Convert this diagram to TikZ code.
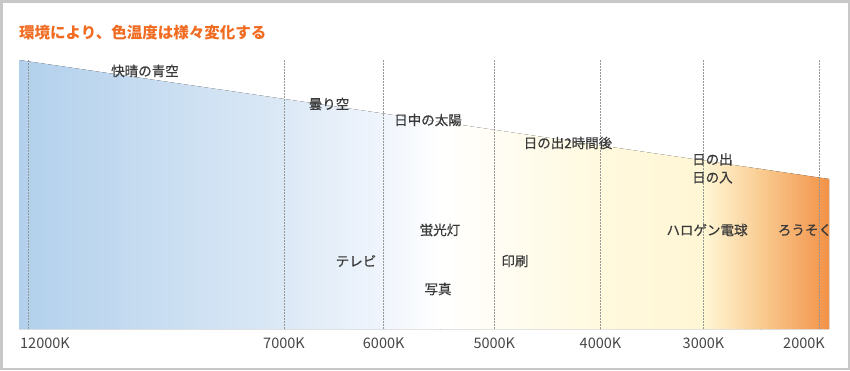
\documentclass[tikz,border=0pt]{standalone}
\usepackage{fontspec}
\setmainfont{Noto Sans CJK JP}
\newfontfamily\srcfont{Noto Sans CJK JP}[FakeBold=0.6]
\usepackage{xcolor}

\definecolor{titleorange}{RGB}{240,108,34}
\definecolor{labelgray}{RGB}{58,58,58}
\definecolor{axisgray}{RGB}{70,70,70}
\definecolor{framegray}{RGB}{200,200,200}
\definecolor{guidegray}{RGB}{150,150,150}
\definecolor{skyA}{RGB}{178,208,236}
\definecolor{skyB}{RGB}{220,233,246}
\definecolor{skyC}{RGB}{240,245,252}
\definecolor{skyD}{RGB}{255,255,255}
\definecolor{skyE}{RGB}{255,249,222}
\definecolor{skyF}{RGB}{255,246,212}
\definecolor{skyG}{RGB}{249,204,146}
\definecolor{skyH}{RGB}{242,145,70}

\begin{document}
\begin{tikzpicture}[x=1pt, y=-1pt,
    src/.style={text=labelgray, inner sep=0pt, font=\srcfont\fontsize{13.5}{16}\selectfont},
    kelvin/.style={text=axisgray, inner sep=0pt, font=\fontsize{14.5}{16}\selectfont},
    guide/.style={guidegray, line width=0.8pt, dash pattern=on 1.5pt off 1.5pt}]

      \useasboundingbox (0,0) rectangle (850,370);
      \draw[framegray, line width=2.5pt] (1.25,1.25) rectangle (848.75,368.75);

      % colour band
      \begin{scope}
        \clip (19,60) -- (829,179) -- (829,329) -- (19,329) -- cycle;
        \foreach \xa/\xb/\ca/\cb in {19/285.5/skyA/skyB, 285/384.5/skyB/skyC, 384/440.5/skyC/skyD,
            440/600.5/skyD/skyE, 600/705.5/skyE/skyF, 705/760.5/skyF/skyG, 760/830/skyG/skyH}
          \fill[left color=\ca, right color=\cb] (\xa,50) rectangle (\xb,340);
      \end{scope}

      % guides and scale
      \foreach \gx/\gk in {284/7000K, 383.7/6000K, 494.3/5000K, 600.5/4000K, 703.5/3000K} {
        \draw[guide] (\gx,60) -- (\gx,329);
        \node[kelvin] (k\gk) at (\gx,343) {\gk};
      }
      \draw[guide] (28.7,60) -- (28.7,329);
      \draw[guide] (819.5,60) -- (819.5,329);
      \node[kelvin, anchor=west] (k12000K) at (20,343) {12000K};
      \node[kelvin] (k2000K) at (804,343) {2000K};

      \node[anchor=west, inner sep=0pt, text=titleorange, font=\fontsize{15.5}{18}\selectfont\bfseries] (title) at (19,33) {環境により、色温度は様々変化する};

      \node[src] (blue) at (145,71) {快晴の青空};
      \node[src] (cloudy) at (329,104) {曇り空};
      \node[src] (noon) at (428,120) {日中の太陽};
      \node[src] (sunrise2h) at (568,143) {日の出2時間後};
      \node[src, anchor=north west, align=left, font=\srcfont\fontsize{13.5}{18}\selectfont] (sunset) at (692,153) {日の出\\日の入};
      \node[src] (fluor) at (440,230) {蛍光灯};
      \node[src] (tv) at (356,261) {テレビ};
      \node[src] (print) at (515,261) {印刷};
      \node[src] (photo) at (438,289) {写真};
      \node[src] (halogen) at (707,230) {ハロゲン電球};
      \node[src] (candle) at (805,230) {ろうそく};
    \end{tikzpicture}
\end{document}
